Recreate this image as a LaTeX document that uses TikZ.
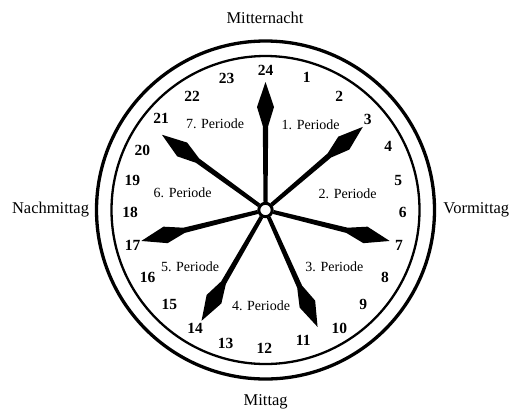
\documentclass[tikz,border=0pt]{standalone}
\usepackage{fontspec}
\setmainfont{Liberation Serif}
\begin{document}
\begin{tikzpicture}[x=1pt,y=-1pt,
  num/.style={inner sep=0pt, font=\fontsize{15.5}{16}\selectfont\bfseries},
  per/.style={inner sep=0pt, font=\fontsize{14}{15}\selectfont},
  side/.style={inner sep=0pt, anchor=base, font=\fontsize{16.5}{18}\selectfont},
  hand/.style={fill=black}]
\useasboundingbox (0,0) rectangle (510,410);
\coordinate (c) at (265.5,210);
% rims
\draw[line width=3.3] (c) circle (169);
\draw[line width=2.3] (c) circle (154);
% hands
\foreach \a in {0,49.5,104,156,210,256,306} {
  \fill[hand, shift={(c)}, rotate=-\a]
    (-2,-8) -- (-2.7,-84) -- (-8.5,-103) -- (0,-128) -- (8.5,-103) -- (2.7,-84) -- (2,-8) -- cycle;
}
% hub
\draw[line width=3, fill=white] (c) circle (6.7);
% hour numbers
\node[num] (h24) at (265.7,70.7) {24};
\node[num] (h1) at (306.7,77.3) {1};
\node[num] (h2) at (339.3,96) {2};
\node[num] (h3) at (367.7,119.3) {3};
\node[num] (h4) at (388.3,146.7) {4};
\node[num] (h5) at (398.3,180) {5};
\node[num] (h6) at (402.7,212) {6};
\node[num] (h7) at (399,245) {7};
\node[num] (h8) at (385,277.3) {8};
\node[num] (h9) at (363.3,304) {9};
\node[num] (h10) at (339.3,328.3) {10};
\node[num] (h11) at (303.3,340.7) {11};
\node[num] (h12) at (264.3,348.3) {12};
\node[num] (h13) at (225.7,343.3) {13};
\node[num] (h14) at (195,328.3) {14};
\node[num] (h15) at (169.3,304) {15};
\node[num] (h16) at (147.7,277.3) {16};
\node[num] (h17) at (132.7,245.7) {17};
\node[num] (h18) at (130,212) {18};
\node[num] (h19) at (132.3,180) {19};
\node[num] (h20) at (142.3,150.7) {20};
\node[num] (h21) at (161,118.3) {21};
\node[num] (h22) at (192,96) {22};
\node[num] (h23) at (226.7,78.3) {23};
% periods
\node[per] (p1) at (310.7,125) {1. Periode};
\node[per] (p2) at (347.7,193.3) {2. Periode};
\node[per] (p3) at (334.3,266.7) {3. Periode};
\node[per] (p4) at (261,305.7) {4. Periode};
\node[per] (p5) at (190,266.7) {5. Periode};
\node[per] (p6) at (182.7,192.7) {6. Periode};
\node[per] (p7) at (215,123.3) {7. Periode};
% side labels
\node[side] (mn) at (265,23.3) {Mitternacht};
\node[side] (vm) at (476.3,213.3) {Vormittag};
\node[side] (nm) at (50.5,213.3) {Nachmittag};
\node[side] (mt) at (265.7,405.5) {Mittag};
\end{tikzpicture}
\end{document}
